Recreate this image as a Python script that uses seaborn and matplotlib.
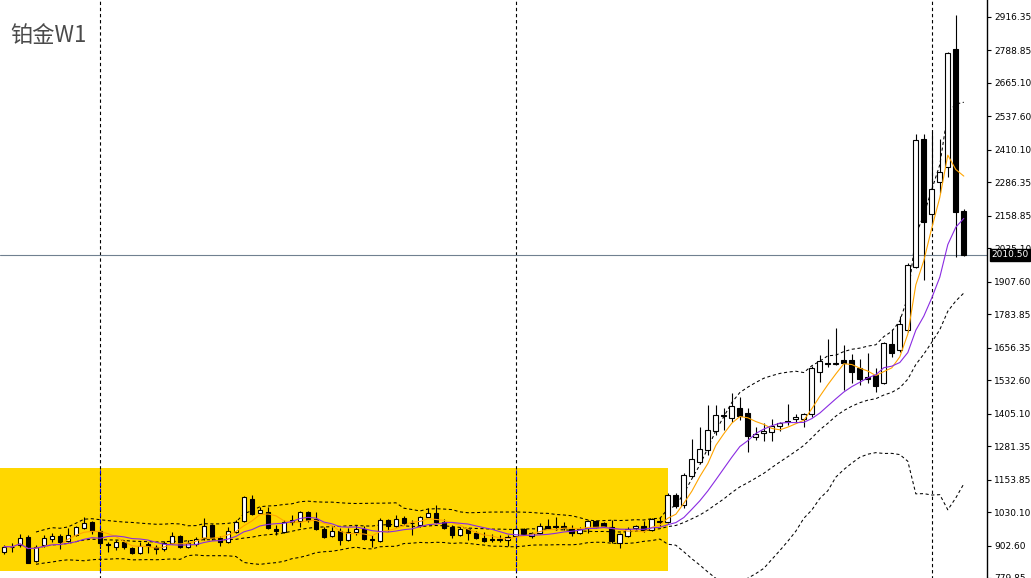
"""
Weekly platinum chart (铂金 W1): candlesticks with MA5 / MA10 and
Bollinger bands (20, 2), MetaTrader-style layout.

Output: out.png
"""

import numpy as np
import pandas as pd
import matplotlib
matplotlib.use("Agg")
import matplotlib.pyplot as plt
import seaborn as sns
from matplotlib.patches import Rectangle

TITLE = "铂金W1"
LAST_PRICE = 2010.50

# ---- weekly OHLC, oldest bar first ----
opens = [
    880, 899, 906, 937, 845, 906, 929, 941, 921, 944,
    971, 994, 959, 908, 899, 918, 895, 876, 910, 899,
    891, 914, 941, 899, 910, 933, 982, 933, 918, 956,
    998, 1081, 1028, 1032, 967, 956, 994, 998, 1032, 1005,
    967, 941, 959, 925, 956, 967, 929, 921, 1001, 979,
    1009, 990, 982, 1013, 1028, 994, 975, 944, 967, 952,
    933, 929, 929, 925, 941, 967, 941, 952, 979, 977,
    979, 967, 952, 971, 998, 990, 975, 914, 941, 971,
    979, 963, 996, 994, 1097, 1058, 1169, 1222, 1268, 1340,
    1399, 1390, 1428, 1409, 1317, 1333, 1336, 1359, 1376, 1386,
    1386, 1405, 1565, 1597, 1595, 1611, 1611, 1580, 1546, 1553,
    1523, 1671, 1648, 1725, 1965, 2452, 2166, 2288, 2345, 2794,
    2178,
]
highs = [
    906, 914, 948, 944, 906, 944, 952, 948, 971, 979,
    1013, 996, 963, 918, 925, 925, 899, 918, 918, 906,
    921, 956, 944, 925, 937, 1009, 985, 941, 975, 1001,
    1093, 1097, 1051, 1051, 982, 1001, 1020, 1035, 1036, 1032,
    975, 975, 971, 971, 982, 979, 944, 1009, 1005, 1020,
    1016, 1001, 1016, 1047, 1058, 1005, 982, 975, 971, 959,
    956, 948, 944, 944, 971, 971, 956, 990, 1005, 1013,
    994, 982, 975, 1001, 1001, 994, 1001, 952, 975, 982,
    998, 1009, 1013, 1104, 1104, 1180, 1310, 1355, 1439, 1439,
    1428, 1485, 1470, 1428, 1355, 1371, 1386, 1374, 1443, 1405,
    1409, 1588, 1630, 1690, 1732, 1668, 1633, 1614, 1637, 1580,
    1679, 1729, 1778, 1980, 2471, 2471, 2478, 2452, 2783, 2924,
    2185,
]
lows = [
    872, 880, 899, 836, 842, 899, 918, 891, 918, 941,
    968, 948, 906, 880, 887, 891, 872, 872, 876, 872,
    883, 910, 895, 895, 902, 925, 925, 902, 914, 952,
    994, 1020, 1025, 967, 944, 952, 982, 975, 994, 963,
    933, 937, 906, 921, 944, 925, 899, 918, 959, 975,
    982, 944, 975, 1010, 990, 968, 933, 941, 925, 929,
    918, 918, 918, 902, 937, 944, 933, 948, 967, 963,
    963, 941, 948, 952, 971, 975, 914, 895, 937, 963,
    956, 959, 979, 990, 1047, 1047, 1165, 1218, 1249, 1325,
    1344, 1374, 1382, 1260, 1306, 1302, 1302, 1340, 1363, 1371,
    1355, 1394, 1527, 1584, 1590, 1496, 1523, 1515, 1523, 1489,
    1519, 1622, 1641, 1718, 1961, 1915, 2125, 2246, 2307, 2003,
    2006,
]
closes = [
    899, 897, 933, 838, 899, 933, 941, 918, 944, 975,
    990, 959, 914, 904, 918, 899, 876, 902, 902, 891,
    914, 941, 899, 914, 929, 979, 933, 918, 959, 994,
    1089, 1024, 1039, 971, 959, 994, 1001, 1032, 1001, 967,
    937, 959, 925, 956, 967, 929, 925, 1001, 979, 1005,
    990, 988, 1013, 1028, 994, 971, 944, 967, 952, 933,
    921, 925, 925, 937, 967, 948, 952, 979, 971, 973,
    971, 952, 967, 998, 975, 979, 921, 948, 967, 979,
    963, 1005, 992, 1097, 1055, 1173, 1234, 1272, 1344, 1401,
    1395, 1435, 1397, 1321, 1329, 1340, 1359, 1371, 1372, 1394,
    1405, 1580, 1607, 1593, 1599, 1599, 1565, 1538, 1538, 1512,
    1675, 1637, 1748, 1972, 2448, 2136, 2262, 2326, 2779, 2174,
    2010.5,
]

y_ticks = [2916.35, 2788.85, 2665.10, 2537.60, 2410.10, 2286.35, 2158.85,
           2035.10, 1907.60, 1783.85, 1656.35, 1532.60, 1405.10, 1281.35,
           1153.85, 1030.10, 902.60, 779.85]

# bars where a new period starts (vertical separators)
separator_bars = [12, 64, 116]
# highlighted consolidation zone: bar range and price range
zone_bars = [-0.5, 83]
zone_prices = [807, 1199]


def main():
    sns.set_style("white")
    plt.rcParams["font.family"] = ["DejaVu Sans"]

    df = pd.DataFrame({"open": opens, "high": highs, "low": lows, "close": closes})
    df["bar"] = np.arange(len(df))
    df["ma5"] = df["close"].rolling(5, min_periods=1).mean()
    df["ma10"] = df["close"].rolling(10, min_periods=1).mean()
    mid = df["close"].rolling(20, min_periods=5).mean()
    sd = df["close"].rolling(20, min_periods=5).std(ddof=0)
    df["bb_mid"] = mid
    df["bb_up"] = mid + 2 * sd
    df["bb_lo"] = mid - 2 * sd

    fig = plt.figure(figsize=(10.31, 5.78), dpi=100)
    ax = fig.add_axes([0, 0, 987 / 1031, 1])
    ax.set_facecolor("white")

    # ---- highlight zone ----
    ax.add_patch(Rectangle((zone_bars[0], zone_prices[0]),
                           zone_bars[1] - zone_bars[0],
                           zone_prices[1] - zone_prices[0],
                           facecolor="#FFD700", edgecolor="none", zorder=0))

    # ---- period separators (drawn blue where they cross the zone) ----
    dots = (0, (3, 2.5))
    ax.vlines(separator_bars, 0, 5000, colors="black", linestyles=dots,
              linewidth=0.8, zorder=0.5)
    inside = [b for b in separator_bars if zone_bars[0] <= b <= zone_bars[1]]
    ax.vlines(inside, zone_prices[0], zone_prices[1], colors="#0000FF",
              linestyles=dots, linewidth=0.8, zorder=0.6)

    # ---- last price line ----
    ax.axhline(LAST_PRICE, color="#708090", linewidth=0.8, zorder=0.7)

    # ---- Bollinger bands ----
    for col in ["bb_up", "bb_mid", "bb_lo"]:
        sns.lineplot(data=df, x="bar", y=col, ax=ax, color="black",
                     linewidth=0.75, linestyle=dots, zorder=1)

    # ---- candles ----
    bull = df["close"] >= df["open"]
    ax.vlines(df["bar"], df["low"], df["high"], colors="black",
              linewidth=0.8, zorder=2)
    body_lo = np.minimum(df["open"], df["close"])
    body_h = np.maximum((df["close"] - df["open"]).abs(), 1.5)
    ax.bar(df["bar"][bull], body_h[bull], bottom=body_lo[bull], width=0.6,
           facecolor="white", edgecolor="black", linewidth=0.8, zorder=2.1)
    ax.bar(df["bar"][~bull], body_h[~bull], bottom=body_lo[~bull], width=0.6,
           facecolor="black", edgecolor="black", linewidth=0.8, zorder=2.1)

    # ---- moving averages ----
    sns.lineplot(data=df, x="bar", y="ma5", ax=ax, color="#FFA500",
                 linewidth=0.8, zorder=3)
    sns.lineplot(data=df, x="bar", y="ma10", ax=ax, color="#8A2BE2",
                 linewidth=0.8, zorder=3)

    # ---- axes styling ----
    ax.set_xlim(-0.5, 122.9)
    ax.set_ylim(779.5, 2981.1)
    ax.set_xticks([])
    ax.set_xlabel("")
    ax.set_ylabel("")
    ax.yaxis.tick_right()
    ax.set_yticks(y_ticks)
    ax.set_yticklabels([f"{t:.2f}" for t in y_ticks])
    ax.tick_params(axis="y", direction="out", length=3, width=0.8,
                   labelsize=6.5, pad=2, colors="black")
    for side in ["left", "top", "bottom"]:
        ax.spines[side].set_visible(False)
    ax.spines["right"].set_color("black")
    ax.spines["right"].set_linewidth(1)

    # ---- last price tag ----
    ax.annotate(f"{LAST_PRICE:.2f}", xy=(1.0, LAST_PRICE),
                xycoords=("axes fraction", "data"),
                xytext=(3, 0), textcoords="offset points",
                ha="left", va="center", fontsize=6.5, color="white",
                bbox=dict(boxstyle="square,pad=0.15", facecolor="black",
                          edgecolor="black"),
                annotation_clip=False, zorder=10)

    # ---- symbol title ----
    fig.text(10 / 1031, 1 - 36 / 578, TITLE, ha="left", va="center",
             fontsize=16, color="#4a4a4a",
             family=["Noto Sans CJK SC", "DejaVu Sans"])

    fig.savefig("out.png", dpi=100)
    plt.close(fig)


if __name__ == "__main__":
    main()
